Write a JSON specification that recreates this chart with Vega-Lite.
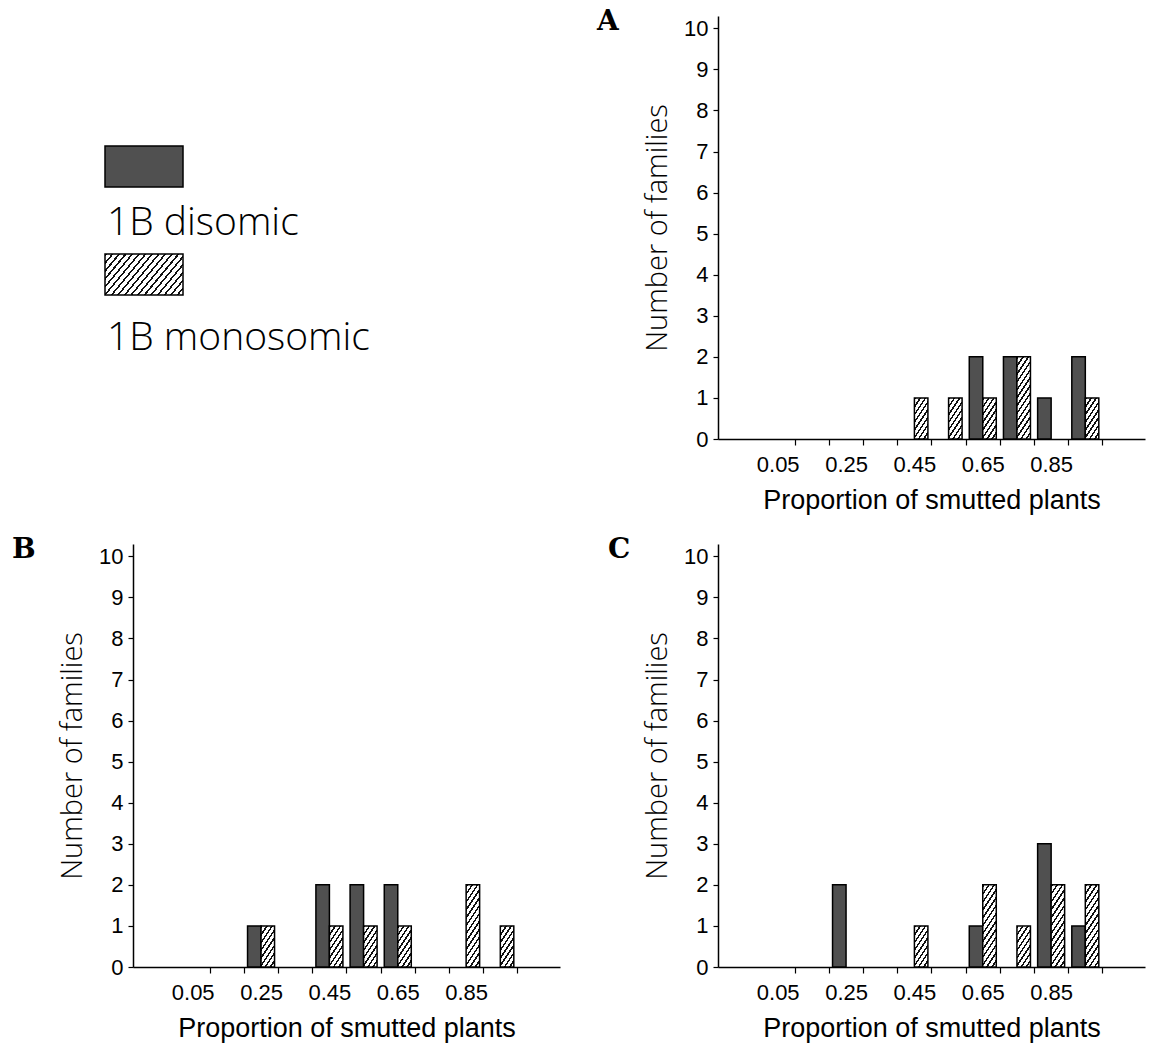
{
  "$schema": "https://vega.github.io/schema/vega-lite/v6.json",
  "padding": {"left": 12, "top": 8, "right": 5, "bottom": 5},
  "autosize": {"type": "pad"},
  "background": "white",
  "config": {
    "view": {"stroke": null},
    "axis": {"grid": false, "domainColor": "black", "tickColor": "black", "labelColor": "black", "titleColor": "black"}
  },
  "datasets": {
    "legend": [
      {"group": "1B disomic"},
      {"group": "1B monosomic"}
    ],
    "bars": [
      {"panel": "A", "group": "1B disomic", "prop": 0.65, "count": 2},
      {"panel": "A", "group": "1B disomic", "prop": 0.75, "count": 2},
      {"panel": "A", "group": "1B disomic", "prop": 0.85, "count": 1},
      {"panel": "A", "group": "1B disomic", "prop": 0.95, "count": 2},
      {"panel": "A", "group": "1B monosomic", "prop": 0.45, "count": 1},
      {"panel": "A", "group": "1B monosomic", "prop": 0.55, "count": 1},
      {"panel": "A", "group": "1B monosomic", "prop": 0.65, "count": 1},
      {"panel": "A", "group": "1B monosomic", "prop": 0.75, "count": 2},
      {"panel": "A", "group": "1B monosomic", "prop": 0.95, "count": 1},
      {"panel": "B", "group": "1B disomic", "prop": 0.25, "count": 1},
      {"panel": "B", "group": "1B disomic", "prop": 0.45, "count": 2},
      {"panel": "B", "group": "1B disomic", "prop": 0.55, "count": 2},
      {"panel": "B", "group": "1B disomic", "prop": 0.65, "count": 2},
      {"panel": "B", "group": "1B monosomic", "prop": 0.25, "count": 1},
      {"panel": "B", "group": "1B monosomic", "prop": 0.45, "count": 1},
      {"panel": "B", "group": "1B monosomic", "prop": 0.55, "count": 1},
      {"panel": "B", "group": "1B monosomic", "prop": 0.65, "count": 1},
      {"panel": "B", "group": "1B monosomic", "prop": 0.85, "count": 2},
      {"panel": "B", "group": "1B monosomic", "prop": 0.95, "count": 1},
      {"panel": "C", "group": "1B disomic", "prop": 0.25, "count": 2},
      {"panel": "C", "group": "1B disomic", "prop": 0.65, "count": 1},
      {"panel": "C", "group": "1B disomic", "prop": 0.85, "count": 3},
      {"panel": "C", "group": "1B disomic", "prop": 0.95, "count": 1},
      {"panel": "C", "group": "1B monosomic", "prop": 0.45, "count": 1},
      {"panel": "C", "group": "1B monosomic", "prop": 0.65, "count": 2},
      {"panel": "C", "group": "1B monosomic", "prop": 0.75, "count": 1},
      {"panel": "C", "group": "1B monosomic", "prop": 0.85, "count": 2},
      {"panel": "C", "group": "1B monosomic", "prop": 0.95, "count": 2}
    ]
  },
  "columns": 2,
  "spacing": {"row": 105, "column": 158},
  "bounds": "flush",
  "resolve": {"scale": {"x": "independent", "y": "independent"}},
  "concat": [
    {
      "width": 427,
      "height": 423,
      "data": {"name": "legend"},
      "resolve": {"scale": {"y": "independent"}},
      "layer": [
        {
          "transform": [{"filter": "datum.group === '1B disomic'"}],
          "mark": {"type": "point", "shape": "M-1,-0.5256L1,-0.5256L1,0.5256L-1,0.5256Z", "size": 6084, "filled": true, "fill": "#505050", "stroke": "black", "strokeWidth": 1.5, "opacity": 1, "xOffset": -202.5},
          "encoding": {"y": {"field": "group", "type": "nominal", "axis": null, "scale": {"type": "point", "padding": 0, "domain": ["1B disomic", "1B monosomic"], "range": [150.5, 258.5]}}}
        },
        {
          "transform": [{"filter": "datum.group === '1B monosomic'"}],
          "mark": {"type": "point", "shape": "M-1,-0.5256L1,-0.5256L1,0.5256L-1,0.5256Z", "size": 6084, "filled": true, "stroke": "black", "strokeWidth": 1.5, "opacity": 1, "xOffset": -202.5,
            "fill": {"gradient": "linear", "x1": 0, "y1": 0, "x2": 1.2066, "y2": 0.5285, "stops": [
              {"offset": 0, "color": "#111"}, {"offset": 0.018, "color": "#111"}, {"offset": 0.018, "color": "#fff"}, {"offset": 0.059, "color": "#fff"},
              {"offset": 0.059, "color": "#111"}, {"offset": 0.077, "color": "#111"}, {"offset": 0.077, "color": "#fff"}, {"offset": 0.118, "color": "#fff"},
              {"offset": 0.118, "color": "#111"}, {"offset": 0.136, "color": "#111"}, {"offset": 0.136, "color": "#fff"}, {"offset": 0.176, "color": "#fff"},
              {"offset": 0.176, "color": "#111"}, {"offset": 0.194, "color": "#111"}, {"offset": 0.194, "color": "#fff"}, {"offset": 0.235, "color": "#fff"},
              {"offset": 0.235, "color": "#111"}, {"offset": 0.253, "color": "#111"}, {"offset": 0.253, "color": "#fff"}, {"offset": 0.294, "color": "#fff"},
              {"offset": 0.294, "color": "#111"}, {"offset": 0.312, "color": "#111"}, {"offset": 0.312, "color": "#fff"}, {"offset": 0.353, "color": "#fff"},
              {"offset": 0.353, "color": "#111"}, {"offset": 0.371, "color": "#111"}, {"offset": 0.371, "color": "#fff"}, {"offset": 0.412, "color": "#fff"},
              {"offset": 0.412, "color": "#111"}, {"offset": 0.43, "color": "#111"}, {"offset": 0.43, "color": "#fff"}, {"offset": 0.471, "color": "#fff"},
              {"offset": 0.471, "color": "#111"}, {"offset": 0.489, "color": "#111"}, {"offset": 0.489, "color": "#fff"}, {"offset": 0.529, "color": "#fff"},
              {"offset": 0.529, "color": "#111"}, {"offset": 0.547, "color": "#111"}, {"offset": 0.547, "color": "#fff"}, {"offset": 0.588, "color": "#fff"},
              {"offset": 0.588, "color": "#111"}, {"offset": 0.606, "color": "#111"}, {"offset": 0.606, "color": "#fff"}, {"offset": 0.647, "color": "#fff"},
              {"offset": 0.647, "color": "#111"}, {"offset": 0.665, "color": "#111"}, {"offset": 0.665, "color": "#fff"}, {"offset": 0.706, "color": "#fff"},
              {"offset": 0.706, "color": "#111"}, {"offset": 0.724, "color": "#111"}, {"offset": 0.724, "color": "#fff"}, {"offset": 0.765, "color": "#fff"},
              {"offset": 0.765, "color": "#111"}, {"offset": 0.783, "color": "#111"}, {"offset": 0.783, "color": "#fff"}, {"offset": 0.824, "color": "#fff"},
              {"offset": 0.824, "color": "#111"}, {"offset": 0.842, "color": "#111"}, {"offset": 0.842, "color": "#fff"}, {"offset": 0.882, "color": "#fff"},
              {"offset": 0.882, "color": "#111"}, {"offset": 0.9, "color": "#111"}, {"offset": 0.9, "color": "#fff"}, {"offset": 0.941, "color": "#fff"},
              {"offset": 0.941, "color": "#111"}, {"offset": 0.959, "color": "#111"}, {"offset": 0.959, "color": "#fff"}, {"offset": 1, "color": "#fff"}
            ]}},
          "encoding": {"y": {"field": "group", "type": "nominal", "axis": null, "scale": {"type": "point", "padding": 0, "domain": ["1B disomic", "1B monosomic"], "range": [150.5, 258.5]}}}
        },
        {
          "mark": {"type": "text", "align": "left", "baseline": "alphabetic", "font": "Open Sans", "fontSize": 39, "fontWeight": 300, "color": "black", "xOffset": -239.5},
          "encoding": {
            "y": {"field": "group", "type": "nominal", "axis": null, "scale": {"type": "point", "padding": 0, "domain": ["1B disomic", "1B monosomic"], "range": [219, 334]}},
            "text": {"field": "group", "type": "nominal"}
          }
        }
      ]
    },
    {
      "width": 427,
      "height": 423,
      "title": {"text": "A", "anchor": "start", "frame": "group", "dx": -121, "offset": -20, "font": "DejaVu Serif", "fontSize": 28, "fontWeight": "bold", "color": "black"},
      "data": {"name": "bars"},
      "transform": [{"filter": "datum.panel === 'A'"}],
      "encoding": {
        "x": {"field": "prop", "type": "quantitative", "scale": {"domain": [-0.11, 1.11], "nice": false, "zero": false},
          "axis": {"values": [0.05, 0.1, 0.2, 0.25, 0.3, 0.4, 0.45, 0.5, 0.6, 0.65, 0.7, 0.8, 0.85, 0.9, 1.0],
            "labelExpr": "indexof([5,25,45,65,85], round(datum.value*100)) >= 0 ? format(datum.value, '.2f') : ''",
            "tickOpacity": {"condition": {"test": "indexof([5,25,45,65,85], round(datum.value*100)) >= 0", "value": 0}, "value": 1},
            "tickSize": 6, "tickWidth": 1.2, "domainWidth": 1.5, "labelFont": "Liberation Sans", "labelFontSize": 22, "labelPadding": 9,
            "labelFlush": false, "labelOverlap": false, "title": "Proportion of smutted plants", "titleFont": "Liberation Sans", "titleFontSize": 27, "titleFontWeight": "normal", "titlePadding": 12}},
        "y": {"field": "count", "type": "quantitative", "scale": {"domain": [0, 10.3], "nice": false},
          "axis": {"values": [0, 1, 2, 3, 4, 5, 6, 7, 8, 9, 10], "tickSize": 5, "tickWidth": 1.2, "domainWidth": 1.5, "labelFont": "Liberation Sans", "labelFontSize": 22, "labelPadding": 5,
            "labelFlush": false, "title": "Number of families", "titleFont": "Open Sans", "titleFontSize": 29, "titleFontWeight": 300, "titlePadding": 11}}
      },
      "layer": [
        {"transform": [{"filter": "datum.group === '1B disomic'"}],
         "mark": {"type": "bar", "orient": "vertical", "size": 13.5, "xOffset": -6.75, "fill": "#505050", "stroke": "black", "strokeWidth": 1.5}},
        {"transform": [{"filter": "datum.group === '1B monosomic'"}],
         "mark": {"type": "bar", "orient": "vertical", "size": 13.5, "xOffset": 6.75, "stroke": "black", "strokeWidth": 1.5},
         "encoding": {"fill": {"condition": {"test": "datum.count >= 2", "value":
           {"gradient": "linear", "x1": 0, "y1": 0, "x2": 0.2897, "y2": 1.1751, "stops": [
             {"offset": 0, "color": "#111"}, {"offset": 0.027, "color": "#111"}, {"offset": 0.027, "color": "#fff"}, {"offset": 0.077, "color": "#fff"},
             {"offset": 0.077, "color": "#111"}, {"offset": 0.104, "color": "#111"}, {"offset": 0.104, "color": "#fff"}, {"offset": 0.154, "color": "#fff"},
             {"offset": 0.154, "color": "#111"}, {"offset": 0.181, "color": "#111"}, {"offset": 0.181, "color": "#fff"}, {"offset": 0.231, "color": "#fff"},
             {"offset": 0.231, "color": "#111"}, {"offset": 0.258, "color": "#111"}, {"offset": 0.258, "color": "#fff"}, {"offset": 0.308, "color": "#fff"},
             {"offset": 0.308, "color": "#111"}, {"offset": 0.335, "color": "#111"}, {"offset": 0.335, "color": "#fff"}, {"offset": 0.385, "color": "#fff"},
             {"offset": 0.385, "color": "#111"}, {"offset": 0.412, "color": "#111"}, {"offset": 0.412, "color": "#fff"}, {"offset": 0.462, "color": "#fff"},
             {"offset": 0.462, "color": "#111"}, {"offset": 0.489, "color": "#111"}, {"offset": 0.489, "color": "#fff"}, {"offset": 0.538, "color": "#fff"},
             {"offset": 0.538, "color": "#111"}, {"offset": 0.565, "color": "#111"}, {"offset": 0.565, "color": "#fff"}, {"offset": 0.615, "color": "#fff"},
             {"offset": 0.615, "color": "#111"}, {"offset": 0.642, "color": "#111"}, {"offset": 0.642, "color": "#fff"}, {"offset": 0.692, "color": "#fff"},
             {"offset": 0.692, "color": "#111"}, {"offset": 0.719, "color": "#111"}, {"offset": 0.719, "color": "#fff"}, {"offset": 0.769, "color": "#fff"},
             {"offset": 0.769, "color": "#111"}, {"offset": 0.796, "color": "#111"}, {"offset": 0.796, "color": "#fff"}, {"offset": 0.846, "color": "#fff"},
             {"offset": 0.846, "color": "#111"}, {"offset": 0.873, "color": "#111"}, {"offset": 0.873, "color": "#fff"}, {"offset": 0.923, "color": "#fff"},
             {"offset": 0.923, "color": "#111"}, {"offset": 0.95, "color": "#111"}, {"offset": 0.95, "color": "#fff"}, {"offset": 1, "color": "#fff"}
           ]}},
           "value": {"gradient": "linear", "x1": 0, "y1": 0, "x2": 0.5922, "y2": 1.2011, "stops": [
             {"offset": 0, "color": "#111"}, {"offset": 0.044, "color": "#111"}, {"offset": 0.044, "color": "#fff"}, {"offset": 0.125, "color": "#fff"},
             {"offset": 0.125, "color": "#111"}, {"offset": 0.169, "color": "#111"}, {"offset": 0.169, "color": "#fff"}, {"offset": 0.25, "color": "#fff"},
             {"offset": 0.25, "color": "#111"}, {"offset": 0.294, "color": "#111"}, {"offset": 0.294, "color": "#fff"}, {"offset": 0.375, "color": "#fff"},
             {"offset": 0.375, "color": "#111"}, {"offset": 0.419, "color": "#111"}, {"offset": 0.419, "color": "#fff"}, {"offset": 0.5, "color": "#fff"},
             {"offset": 0.5, "color": "#111"}, {"offset": 0.544, "color": "#111"}, {"offset": 0.544, "color": "#fff"}, {"offset": 0.625, "color": "#fff"},
             {"offset": 0.625, "color": "#111"}, {"offset": 0.669, "color": "#111"}, {"offset": 0.669, "color": "#fff"}, {"offset": 0.75, "color": "#fff"},
             {"offset": 0.75, "color": "#111"}, {"offset": 0.794, "color": "#111"}, {"offset": 0.794, "color": "#fff"}, {"offset": 0.875, "color": "#fff"},
             {"offset": 0.875, "color": "#111"}, {"offset": 0.919, "color": "#111"}, {"offset": 0.919, "color": "#fff"}, {"offset": 1, "color": "#fff"}
           ]}}}}
      ]
    },
    {
      "width": 427,
      "height": 423,
      "title": {"text": "B", "anchor": "start", "frame": "group", "dx": -121, "offset": -20, "font": "DejaVu Serif", "fontSize": 28, "fontWeight": "bold", "color": "black"},
      "data": {"name": "bars"},
      "transform": [{"filter": "datum.panel === 'B'"}],
      "encoding": {
        "x": {"field": "prop", "type": "quantitative", "scale": {"domain": [-0.11, 1.11], "nice": false, "zero": false},
          "axis": {"values": [0.05, 0.1, 0.2, 0.25, 0.3, 0.4, 0.45, 0.5, 0.6, 0.65, 0.7, 0.8, 0.85, 0.9, 1.0],
            "labelExpr": "indexof([5,25,45,65,85], round(datum.value*100)) >= 0 ? format(datum.value, '.2f') : ''",
            "tickOpacity": {"condition": {"test": "indexof([5,25,45,65,85], round(datum.value*100)) >= 0", "value": 0}, "value": 1},
            "tickSize": 6, "tickWidth": 1.2, "domainWidth": 1.5, "labelFont": "Liberation Sans", "labelFontSize": 22, "labelPadding": 9,
            "labelFlush": false, "labelOverlap": false, "title": "Proportion of smutted plants", "titleFont": "Liberation Sans", "titleFontSize": 27, "titleFontWeight": "normal", "titlePadding": 12}},
        "y": {"field": "count", "type": "quantitative", "scale": {"domain": [0, 10.3], "nice": false},
          "axis": {"values": [0, 1, 2, 3, 4, 5, 6, 7, 8, 9, 10], "tickSize": 5, "tickWidth": 1.2, "domainWidth": 1.5, "labelFont": "Liberation Sans", "labelFontSize": 22, "labelPadding": 5,
            "labelFlush": false, "title": "Number of families", "titleFont": "Open Sans", "titleFontSize": 29, "titleFontWeight": 300, "titlePadding": 11}}
      },
      "layer": [
        {"transform": [{"filter": "datum.group === '1B disomic'"}],
         "mark": {"type": "bar", "orient": "vertical", "size": 13.5, "xOffset": -6.75, "fill": "#505050", "stroke": "black", "strokeWidth": 1.5}},
        {"transform": [{"filter": "datum.group === '1B monosomic'"}],
         "mark": {"type": "bar", "orient": "vertical", "size": 13.5, "xOffset": 6.75, "stroke": "black", "strokeWidth": 1.5},
         "encoding": {"fill": {"condition": {"test": "datum.count >= 2", "value":
           {"gradient": "linear", "x1": 0, "y1": 0, "x2": 0.2897, "y2": 1.1751, "stops": [
             {"offset": 0, "color": "#111"}, {"offset": 0.027, "color": "#111"}, {"offset": 0.027, "color": "#fff"}, {"offset": 0.077, "color": "#fff"},
             {"offset": 0.077, "color": "#111"}, {"offset": 0.104, "color": "#111"}, {"offset": 0.104, "color": "#fff"}, {"offset": 0.154, "color": "#fff"},
             {"offset": 0.154, "color": "#111"}, {"offset": 0.181, "color": "#111"}, {"offset": 0.181, "color": "#fff"}, {"offset": 0.231, "color": "#fff"},
             {"offset": 0.231, "color": "#111"}, {"offset": 0.258, "color": "#111"}, {"offset": 0.258, "color": "#fff"}, {"offset": 0.308, "color": "#fff"},
             {"offset": 0.308, "color": "#111"}, {"offset": 0.335, "color": "#111"}, {"offset": 0.335, "color": "#fff"}, {"offset": 0.385, "color": "#fff"},
             {"offset": 0.385, "color": "#111"}, {"offset": 0.412, "color": "#111"}, {"offset": 0.412, "color": "#fff"}, {"offset": 0.462, "color": "#fff"},
             {"offset": 0.462, "color": "#111"}, {"offset": 0.489, "color": "#111"}, {"offset": 0.489, "color": "#fff"}, {"offset": 0.538, "color": "#fff"},
             {"offset": 0.538, "color": "#111"}, {"offset": 0.565, "color": "#111"}, {"offset": 0.565, "color": "#fff"}, {"offset": 0.615, "color": "#fff"},
             {"offset": 0.615, "color": "#111"}, {"offset": 0.642, "color": "#111"}, {"offset": 0.642, "color": "#fff"}, {"offset": 0.692, "color": "#fff"},
             {"offset": 0.692, "color": "#111"}, {"offset": 0.719, "color": "#111"}, {"offset": 0.719, "color": "#fff"}, {"offset": 0.769, "color": "#fff"},
             {"offset": 0.769, "color": "#111"}, {"offset": 0.796, "color": "#111"}, {"offset": 0.796, "color": "#fff"}, {"offset": 0.846, "color": "#fff"},
             {"offset": 0.846, "color": "#111"}, {"offset": 0.873, "color": "#111"}, {"offset": 0.873, "color": "#fff"}, {"offset": 0.923, "color": "#fff"},
             {"offset": 0.923, "color": "#111"}, {"offset": 0.95, "color": "#111"}, {"offset": 0.95, "color": "#fff"}, {"offset": 1, "color": "#fff"}
           ]}},
           "value": {"gradient": "linear", "x1": 0, "y1": 0, "x2": 0.5922, "y2": 1.2011, "stops": [
             {"offset": 0, "color": "#111"}, {"offset": 0.044, "color": "#111"}, {"offset": 0.044, "color": "#fff"}, {"offset": 0.125, "color": "#fff"},
             {"offset": 0.125, "color": "#111"}, {"offset": 0.169, "color": "#111"}, {"offset": 0.169, "color": "#fff"}, {"offset": 0.25, "color": "#fff"},
             {"offset": 0.25, "color": "#111"}, {"offset": 0.294, "color": "#111"}, {"offset": 0.294, "color": "#fff"}, {"offset": 0.375, "color": "#fff"},
             {"offset": 0.375, "color": "#111"}, {"offset": 0.419, "color": "#111"}, {"offset": 0.419, "color": "#fff"}, {"offset": 0.5, "color": "#fff"},
             {"offset": 0.5, "color": "#111"}, {"offset": 0.544, "color": "#111"}, {"offset": 0.544, "color": "#fff"}, {"offset": 0.625, "color": "#fff"},
             {"offset": 0.625, "color": "#111"}, {"offset": 0.669, "color": "#111"}, {"offset": 0.669, "color": "#fff"}, {"offset": 0.75, "color": "#fff"},
             {"offset": 0.75, "color": "#111"}, {"offset": 0.794, "color": "#111"}, {"offset": 0.794, "color": "#fff"}, {"offset": 0.875, "color": "#fff"},
             {"offset": 0.875, "color": "#111"}, {"offset": 0.919, "color": "#111"}, {"offset": 0.919, "color": "#fff"}, {"offset": 1, "color": "#fff"}
           ]}}}}
      ]
    },
    {
      "width": 427,
      "height": 423,
      "title": {"text": "C", "anchor": "start", "frame": "group", "dx": -110, "offset": -20, "font": "DejaVu Serif", "fontSize": 28, "fontWeight": "bold", "color": "black"},
      "data": {"name": "bars"},
      "transform": [{"filter": "datum.panel === 'C'"}],
      "encoding": {
        "x": {"field": "prop", "type": "quantitative", "scale": {"domain": [-0.11, 1.11], "nice": false, "zero": false},
          "axis": {"values": [0.05, 0.1, 0.2, 0.25, 0.3, 0.4, 0.45, 0.5, 0.6, 0.65, 0.7, 0.8, 0.85, 0.9, 1.0],
            "labelExpr": "indexof([5,25,45,65,85], round(datum.value*100)) >= 0 ? format(datum.value, '.2f') : ''",
            "tickOpacity": {"condition": {"test": "indexof([5,25,45,65,85], round(datum.value*100)) >= 0", "value": 0}, "value": 1},
            "tickSize": 6, "tickWidth": 1.2, "domainWidth": 1.5, "labelFont": "Liberation Sans", "labelFontSize": 22, "labelPadding": 9,
            "labelFlush": false, "labelOverlap": false, "title": "Proportion of smutted plants", "titleFont": "Liberation Sans", "titleFontSize": 27, "titleFontWeight": "normal", "titlePadding": 12}},
        "y": {"field": "count", "type": "quantitative", "scale": {"domain": [0, 10.3], "nice": false},
          "axis": {"values": [0, 1, 2, 3, 4, 5, 6, 7, 8, 9, 10], "tickSize": 5, "tickWidth": 1.2, "domainWidth": 1.5, "labelFont": "Liberation Sans", "labelFontSize": 22, "labelPadding": 5,
            "labelFlush": false, "title": "Number of families", "titleFont": "Open Sans", "titleFontSize": 29, "titleFontWeight": 300, "titlePadding": 11}}
      },
      "layer": [
        {"transform": [{"filter": "datum.group === '1B disomic'"}],
         "mark": {"type": "bar", "orient": "vertical", "size": 13.5, "xOffset": -6.75, "fill": "#505050", "stroke": "black", "strokeWidth": 1.5}},
        {"transform": [{"filter": "datum.group === '1B monosomic'"}],
         "mark": {"type": "bar", "orient": "vertical", "size": 13.5, "xOffset": 6.75, "stroke": "black", "strokeWidth": 1.5},
         "encoding": {"fill": {"condition": {"test": "datum.count >= 2", "value":
           {"gradient": "linear", "x1": 0, "y1": 0, "x2": 0.2897, "y2": 1.1751, "stops": [
             {"offset": 0, "color": "#111"}, {"offset": 0.027, "color": "#111"}, {"offset": 0.027, "color": "#fff"}, {"offset": 0.077, "color": "#fff"},
             {"offset": 0.077, "color": "#111"}, {"offset": 0.104, "color": "#111"}, {"offset": 0.104, "color": "#fff"}, {"offset": 0.154, "color": "#fff"},
             {"offset": 0.154, "color": "#111"}, {"offset": 0.181, "color": "#111"}, {"offset": 0.181, "color": "#fff"}, {"offset": 0.231, "color": "#fff"},
             {"offset": 0.231, "color": "#111"}, {"offset": 0.258, "color": "#111"}, {"offset": 0.258, "color": "#fff"}, {"offset": 0.308, "color": "#fff"},
             {"offset": 0.308, "color": "#111"}, {"offset": 0.335, "color": "#111"}, {"offset": 0.335, "color": "#fff"}, {"offset": 0.385, "color": "#fff"},
             {"offset": 0.385, "color": "#111"}, {"offset": 0.412, "color": "#111"}, {"offset": 0.412, "color": "#fff"}, {"offset": 0.462, "color": "#fff"},
             {"offset": 0.462, "color": "#111"}, {"offset": 0.489, "color": "#111"}, {"offset": 0.489, "color": "#fff"}, {"offset": 0.538, "color": "#fff"},
             {"offset": 0.538, "color": "#111"}, {"offset": 0.565, "color": "#111"}, {"offset": 0.565, "color": "#fff"}, {"offset": 0.615, "color": "#fff"},
             {"offset": 0.615, "color": "#111"}, {"offset": 0.642, "color": "#111"}, {"offset": 0.642, "color": "#fff"}, {"offset": 0.692, "color": "#fff"},
             {"offset": 0.692, "color": "#111"}, {"offset": 0.719, "color": "#111"}, {"offset": 0.719, "color": "#fff"}, {"offset": 0.769, "color": "#fff"},
             {"offset": 0.769, "color": "#111"}, {"offset": 0.796, "color": "#111"}, {"offset": 0.796, "color": "#fff"}, {"offset": 0.846, "color": "#fff"},
             {"offset": 0.846, "color": "#111"}, {"offset": 0.873, "color": "#111"}, {"offset": 0.873, "color": "#fff"}, {"offset": 0.923, "color": "#fff"},
             {"offset": 0.923, "color": "#111"}, {"offset": 0.95, "color": "#111"}, {"offset": 0.95, "color": "#fff"}, {"offset": 1, "color": "#fff"}
           ]}},
           "value": {"gradient": "linear", "x1": 0, "y1": 0, "x2": 0.5922, "y2": 1.2011, "stops": [
             {"offset": 0, "color": "#111"}, {"offset": 0.044, "color": "#111"}, {"offset": 0.044, "color": "#fff"}, {"offset": 0.125, "color": "#fff"},
             {"offset": 0.125, "color": "#111"}, {"offset": 0.169, "color": "#111"}, {"offset": 0.169, "color": "#fff"}, {"offset": 0.25, "color": "#fff"},
             {"offset": 0.25, "color": "#111"}, {"offset": 0.294, "color": "#111"}, {"offset": 0.294, "color": "#fff"}, {"offset": 0.375, "color": "#fff"},
             {"offset": 0.375, "color": "#111"}, {"offset": 0.419, "color": "#111"}, {"offset": 0.419, "color": "#fff"}, {"offset": 0.5, "color": "#fff"},
             {"offset": 0.5, "color": "#111"}, {"offset": 0.544, "color": "#111"}, {"offset": 0.544, "color": "#fff"}, {"offset": 0.625, "color": "#fff"},
             {"offset": 0.625, "color": "#111"}, {"offset": 0.669, "color": "#111"}, {"offset": 0.669, "color": "#fff"}, {"offset": 0.75, "color": "#fff"},
             {"offset": 0.75, "color": "#111"}, {"offset": 0.794, "color": "#111"}, {"offset": 0.794, "color": "#fff"}, {"offset": 0.875, "color": "#fff"},
             {"offset": 0.875, "color": "#111"}, {"offset": 0.919, "color": "#111"}, {"offset": 0.919, "color": "#fff"}, {"offset": 1, "color": "#fff"}
           ]}}}}
      ]
    }
  ]
}
